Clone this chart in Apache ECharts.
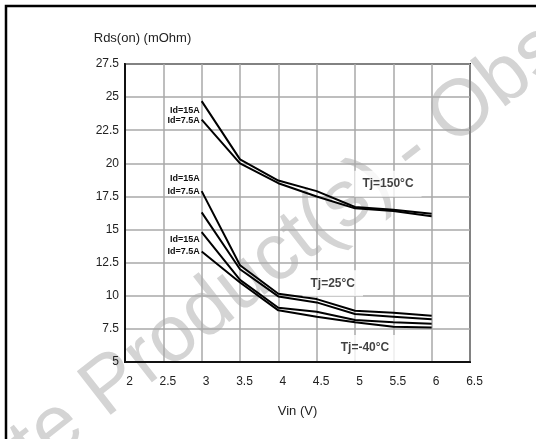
<!DOCTYPE html>
<html>
<head>
<meta charset="utf-8">
<script src="https://cdn.jsdelivr.net/npm/echarts@6/dist/echarts.min.js"></script>
<style>
  html, body { margin: 0; padding: 0; background: #fff; }
  #main { width: 536px; height: 439px; }
</style>
</head>
<body>
<div id="main"></div>
<script>
// Gate voltage points (V)
let vin = [3, 3.5, 4, 4.5, 5, 5.5, 6];
// Rds(on) in mOhm
let tj150Id15 = [24.7, 20.3, 18.7, 17.9, 16.7, 16.5, 16.2];
let tj150Id75 = [23.3, 20.0, 18.5, 17.5, 16.6, 16.4, 16.0];
let tj25Id15 = [17.9, 12.3, 10.15, 9.75, 8.87, 8.72, 8.5];
let tj25Id75 = [16.3, 12.0, 9.95, 9.5, 8.62, 8.42, 8.22];
let tjm40Id15 = [14.8, 11.2, 9.1, 8.8, 8.17, 8.0, 7.88];
let tjm40Id75 = [13.35, 11.0, 8.9, 8.42, 8.0, 7.66, 7.61];

// temperature captions, placed in data units
let tjNames = ['Tj=150°C', 'Tj=25°C', 'Tj=-40°C'];
let tjX = [5.43, 4.71, 5.13];
let tjY = [18.45, 10.95, 6.05];

const font = 'Liberation Sans, Arial, sans-serif';

// one black curve with the Id caption at its first point
function curve(name, values, idText, dy) {
    let data = vin.map((x, i) => [x, values[i]]);
    data[0] = {
        value: data[0],
        label: {
            show: true,
            position: 'left',
            distance: 2,
            offset: [0, dy],
            formatter: idText,
            fontFamily: font,
            fontWeight: 'bold',
            fontSize: 9,
            color: '#111'
        }
    };
    return {
        name: name,
        type: 'line',
        data: data,
        symbol: 'circle',
        symbolSize: 0,
        showSymbol: true,
        silent: true,
        lineStyle: { color: '#000', width: 2 },
        itemStyle: { color: '#000' },
        z: 3
    };
}

let myChart = echarts.init(document.getElementById('main'));
let option = {
    animation: false,
    backgroundColor: '#fff',
    grid: {
        left: 125, right: 66, top: 64, bottom: 77,
        show: true,
        borderColor: '#111',
        borderWidth: 2,
        backgroundColor: 'transparent'
    },
    xAxis: {
        type: 'value',
        min: 2, max: 6.5, interval: 0.5,
        name: 'Vin (V)',
        nameLocation: 'middle',
        nameGap: 43,
        nameTextStyle: { fontFamily: font, fontSize: 13, color: '#222' },
        axisLine: { lineStyle: { color: '#111', width: 2 } },
        axisTick: { show: false },
        axisLabel: { fontFamily: font, fontSize: 12, color: '#222', margin: 14, padding: [0, 0, 0, 9] },
        splitLine: { lineStyle: { color: '#a8a8a8', width: 1.5 } }
    },
    yAxis: {
        type: 'value',
        min: 5, max: 27.5, interval: 2.5,
        name: 'Rds(on) (mOhm)',
        nameLocation: 'end',
        nameGap: 19,
        nameTextStyle: { fontFamily: font, fontSize: 13, color: '#222', align: 'center', padding: [0, 0, 0, 35] },
        axisLine: { show: true, lineStyle: { color: '#111', width: 2 } },
        axisTick: { show: false },
        axisLabel: { fontFamily: font, fontSize: 12, color: '#222', margin: 6, padding: [4, 0, 0, 0] },
        splitLine: { lineStyle: { color: '#a8a8a8', width: 1.5 } }
    },
    graphic: [
        {
            // faded watermark across the sheet
            type: 'text',
            x: -178, y: 612,
            rotation: 0.663,
            z: -10,
            silent: true,
            style: {
                text: 'Obsolete Product(s) - Obsolete Product(s)',
                fontFamily: font,
                fontSize: 80,
                fill: '#d4d4d4',
                textAlign: 'left',
                textVerticalAlign: 'middle'
            }
        },
        {
            // page frame, top and left edges
            type: 'polyline',
            z: 10,
            silent: true,
            shape: { points: [[6, 439], [6, 6], [536, 6]] },
            style: { stroke: '#000', lineWidth: 2.5, fill: null }
        }
    ],
    series: [
        curve('Tj=150°C Id=15A', tj150Id15, 'Id=15A', 9),
        curve('Tj=150°C Id=7.5A', tj150Id75, 'Id=7.5A', 1),
        curve('Tj=25°C Id=15A', tj25Id15, 'Id=15A', -13),
        curve('Tj=25°C Id=7.5A', tj25Id75, 'Id=7.5A', -21),
        curve('Tj=-40°C Id=15A', tjm40Id15, 'Id=15A', 7),
        curve('Tj=-40°C Id=7.5A', tjm40Id75, 'Id=7.5A', 0),
        {
            name: 'captions',
            type: 'scatter',
            symbolSize: 0,
            silent: true,
            z: 4,
            data: tjNames.map((t, i) => [tjX[i], tjY[i], t]),
            label: {
                show: true,
                position: 'inside',
                formatter: p => p.value[2],
                fontFamily: font,
                fontWeight: 'bold',
                fontSize: 12,
                color: '#111',
                backgroundColor: '#fff',
                padding: [7, 8]
            }
        }
    ]
};
myChart.setOption(option);
</script>
</body>
</html>
